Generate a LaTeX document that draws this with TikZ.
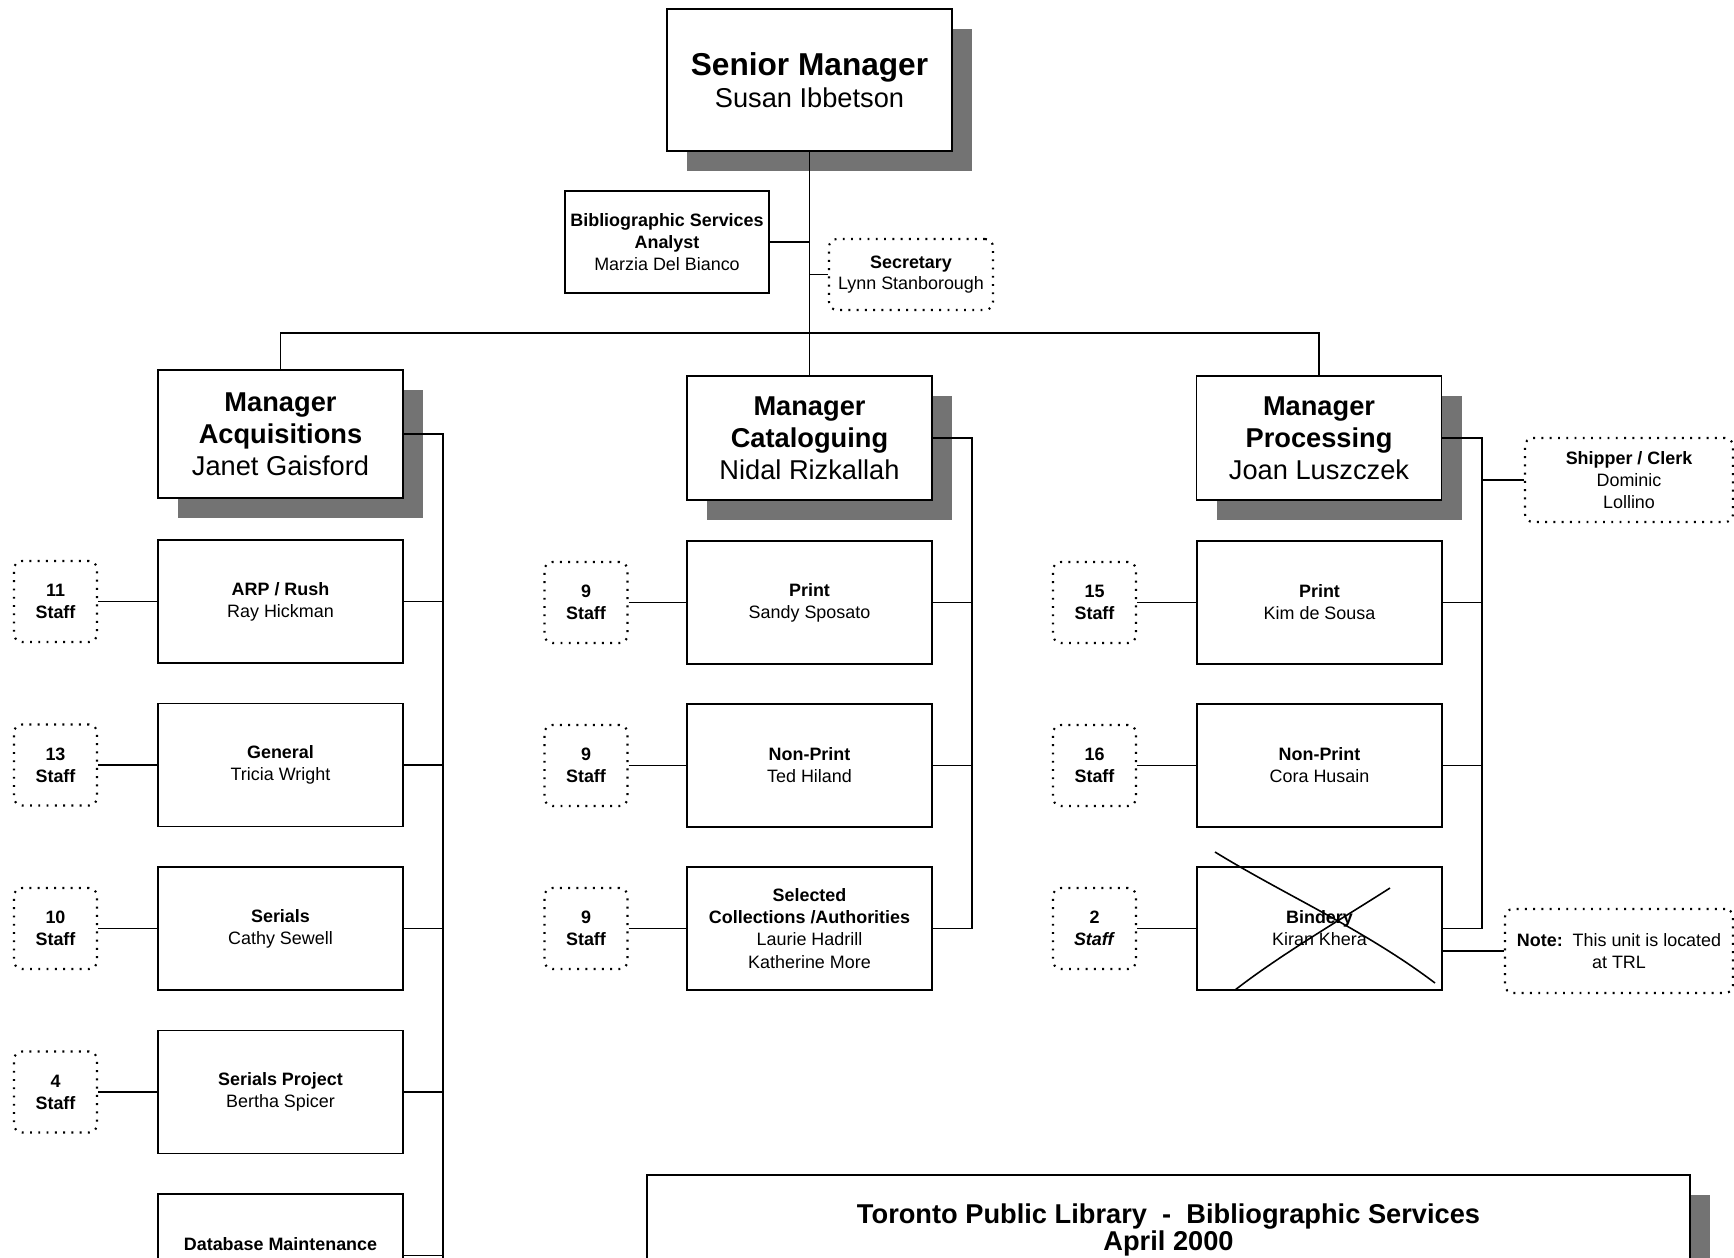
\documentclass[tikz,border=0pt]{standalone}
\usepackage{fontspec}
\setmainfont{Liberation Sans}
\usetikzlibrary{shadows}

\begin{document}
\begin{tikzpicture}[
  box/.style={draw,line width=1.1pt,align=center,inner sep=1pt,fill=white},
  dropgray/.style={drop shadow={shadow xshift=0.4cm,shadow yshift=-0.4cm,fill=black!55,opacity=1}},
  unit/.style={box,minimum width=4.9cm,minimum height=2.46cm,font=\fontsize{10.2}{12.6}\selectfont},
  boss/.style={box,dropgray,minimum width=4.9cm,minimum height=2.5cm,font=\fontsize{15.5}{18.2}\selectfont},
  dotbox/.style={draw,line width=1.2pt,dash pattern=on 1.1pt off 3.6pt,rounded corners=4.5pt,align=center,inner sep=1pt,font=\fontsize{10.2}{12.3}\selectfont},
  staff/.style={dotbox,minimum width=1.66cm,minimum height=1.62cm,font=\fontsize{10.2}{12.6}\selectfont\bfseries},
  link/.style={line width=0.8pt}
]
\useasboundingbox (0,0) rectangle (34.68,-25.14);
\clip (0,0) rectangle (34.68,-25.14);

% top
\node[boss,minimum width=5.7cm,minimum height=2.84cm] (senior) at (16.19,-1.60) {{\fontsize{18}{19.5}\selectfont\bfseries Senior Manager}\\Susan Ibbetson};
\node[box,minimum width=4.08cm,minimum height=2.04cm,font=\fontsize{10.2}{12.3}\selectfont] (biblio) at (13.34,-4.84) {\textbf{Bibliographic Services}\\\textbf{Analyst}\\Marzia Del Bianco};
\node[dotbox,minimum width=3.28cm,minimum height=1.42cm] (secy) at (18.22,-5.49) {\textbf{Secretary}\\Lynn Stanborough};

% managers
\node[boss,minimum height=2.56cm] (acq) at (5.61,-8.68) {\textbf{Manager}\\\textbf{Acquisitions}\\Janet Gaisford};
\node[boss,minimum height=2.48cm] (cat) at (16.19,-8.76) {\textbf{Manager}\\\textbf{Cataloguing}\\Nidal Rizkallah};
\node[boss,minimum height=2.48cm] (proc) at (26.38,-8.76) {\textbf{Manager}\\\textbf{Processing}\\Joan Luszczek};

\coordinate (bar) at (16.16,-6.66);
\draw[link] (senior.south) -- (cat.north);
\draw[link] (acq.north) -- (acq.north |- bar) -- (proc.north |- bar) -- (proc.north);
\draw[link] (biblio.east) -- (biblio.east -| senior.south);
\draw[link] (secy.west) -- (secy.west -| senior.south);

% acquisitions
\node[unit] (arp) at (5.61,-12.03) {\textbf{ARP / Rush}\\Ray Hickman};
\node[unit] (gen) at (5.61,-15.30) {\textbf{General}\\Tricia Wright};
\node[unit] (ser) at (5.61,-18.57) {\textbf{Serials}\\Cathy Sewell};
\node[unit] (serproj) at (5.61,-21.84) {\textbf{Serials Project}\\Bertha Spicer};
\node[unit] (dbase) at (5.61,-25.11) {\textbf{Database Maintenance}\\\mbox{}};

\node[staff] (sarp) at (1.11,-12.03) {11\\Staff};
\node[staff] (sgen) at (1.11,-15.30) {13\\Staff};
\node[staff] (sser) at (1.11,-18.57) {10\\Staff};
\node[staff] (sserproj) at (1.11,-21.84) {4\\Staff};

\coordinate (acqbus) at (8.86,-25.4);
\draw[link] (acq.east) -- (acq.east -| acqbus) -- (acqbus);
\draw[link] (arp.east) -- (arp.east -| acqbus);
\draw[link] (gen.east) -- (gen.east -| acqbus);
\draw[link] (ser.east) -- (ser.east -| acqbus);
\draw[link] (serproj.east) -- (serproj.east -| acqbus);
\draw[link] (dbase.east) -- (dbase.east -| acqbus);
\draw[link] (sarp.east) -- (arp.west);
\draw[link] (sgen.east) -- (gen.west);
\draw[link] (sser.east) -- (ser.west);
\draw[link] (sserproj.east) -- (serproj.west);

% cataloguing
\node[unit] (cprint) at (16.19,-12.05) {\textbf{Print}\\Sandy Sposato};
\node[unit] (cnon) at (16.19,-15.31) {\textbf{Non-Print}\\Ted Hiland};
\node[unit] (selcoll) at (16.19,-18.57) {\textbf{Selected}\\\textbf{Collections /Authorities}\\Laurie Hadrill\\Katherine More};

\node[staff] (scprint) at (11.72,-12.05) {9\\Staff};
\node[staff] (scnon) at (11.72,-15.31) {9\\Staff};
\node[staff] (ssel) at (11.72,-18.57) {9\\Staff};

\coordinate (catbus) at (19.44,-18.57);
\draw[link] (cat.east) -| (catbus) -- (selcoll.east);
\draw[link] (cprint.east) -- (cprint.east -| catbus);
\draw[link] (cnon.east) -- (cnon.east -| catbus);
\draw[link] (scprint.east) -- (cprint.west);
\draw[link] (scnon.east) -- (cnon.west);
\draw[link] (ssel.east) -- (selcoll.west);

% processing
\node[unit] (pprint) at (26.39,-12.05) {\textbf{Print}\\Kim de Sousa};
\node[unit] (pnon) at (26.39,-15.31) {\textbf{Non-Print}\\Cora Husain};
\node[unit] (bindery) at (26.39,-18.57) {\textbf{Bindery}\\Kiran Khera};

\node[staff] (spprint) at (21.89,-12.05) {15\\Staff};
\node[staff] (spnon) at (21.89,-15.31) {16\\Staff};
\node[staff] (sbind) at (21.89,-18.57) {2\\\textit{Staff}};

\node[dotbox,minimum width=4.16cm,minimum height=1.68cm] (shipper) at (32.58,-9.60) {\textbf{Shipper / Clerk}\\Dominic\\Lollino};
\node[dotbox,minimum width=4.56cm,minimum height=1.68cm] (note) at (32.38,-19.02) {\textbf{Note:}\ \ This unit is located\\at TRL};

\coordinate (procbus) at (29.64,-18.57);
\draw[link] (proc.east) -| (procbus) -- (bindery.east);
\draw[link] (pprint.east) -- (pprint.east -| procbus);
\draw[link] (pnon.east) -- (pnon.east -| procbus);
\draw[link] (shipper.west) -- (shipper.west -| procbus);
\draw[link] (note.west) -- (note.west -| bindery.east);
\draw[link] (spprint.east) -- (pprint.west);
\draw[link] (spnon.east) -- (pnon.west);
\draw[link] (sbind.east) -- (bindery.west);

% crossed out
\draw[line width=0.9pt] (24.30,-17.04) .. controls (25.7,-17.9) and (27.3,-18.6) .. (28.70,-19.66);
\draw[line width=0.9pt] (27.80,-17.76) .. controls (26.8,-18.4) and (25.6,-19.1) .. (24.70,-19.80);

% title
\node[box,dropgray,minimum width=20.86cm,minimum height=2.2cm,font=\fontsize{15.5}{15.5}\selectfont\bfseries] (title) at (23.37,-24.60) {Toronto Public Library\ \ -\ \ Bibliographic Services\\April 2000};

\end{tikzpicture}
\end{document}
